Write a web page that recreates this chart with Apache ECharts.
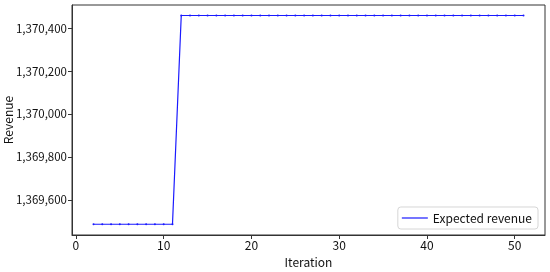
<!DOCTYPE html>
<html>
<head>
<meta charset="utf-8">
<script src="https://cdn.jsdelivr.net/npm/echarts@6/dist/echarts.min.js"></script>
<style>
  html, body { margin: 0; padding: 0; background: #fff; }
  #chart { width: 550px; height: 272px; }
</style>
</head>
<body>
<div id="chart"></div>
<script>
// iterations and expected revenue
var iterations = [2, 3, 4, 5, 6, 7, 8, 9, 10, 11, 12, 13, 14, 15, 16, 17, 18, 19, 20, 21,
	22, 23, 24, 25, 26, 27, 28, 29, 30, 31, 32, 33, 34, 35, 36, 37, 38, 39, 40, 41,
	42, 43, 44, 45, 46, 47, 48, 49, 50, 51];
var revenue = [1369487, 1369487, 1369487, 1369487, 1369487, 1369487, 1369487, 1369487, 1369487, 1369487,
	1370459, 1370459, 1370459, 1370459, 1370459, 1370459, 1370459, 1370459, 1370459, 1370459,
	1370459, 1370459, 1370459, 1370459, 1370459, 1370459, 1370459, 1370459, 1370459, 1370459,
	1370459, 1370459, 1370459, 1370459, 1370459, 1370459, 1370459, 1370459, 1370459, 1370459,
	1370459, 1370459, 1370459, 1370459, 1370459, 1370459, 1370459, 1370459, 1370459, 1370459];
var xTicks = [0, 10, 20, 30, 40, 50];
var yTicks = [1369600, 1369800, 1370000, 1370200, 1370400];

var FONT = '"Noto Sans CJK SC", sans-serif';

var seriesData = [];
for (var i = 0; i < iterations.length; i++) {
	seriesData.push([iterations[i], revenue[i]]);
}

var chart = echarts.init(document.getElementById('chart'));
var option = {
	animation : false,
	backgroundColor : '#fff',
	textStyle : { fontFamily : FONT },
	grid : {
		left : 72,
		right : 5,
		top : 5,
		bottom : 37,
		containLabel : false,
		outerBoundsMode : 'none',
		show : true,
		borderColor : '#333',
		borderWidth : 1
	},
	legend : {
		right : 12,
		bottom : 43,
		data : ['Expected revenue'],
		icon : 'rect',
		itemWidth : 26,
		itemHeight : 1.2,
		itemGap : 8,
		padding : [5, 6, 5, 4],
		borderColor : '#d6d6d6',
		borderWidth : 1,
		borderRadius : 3,
		backgroundColor : '#fff',
		textStyle : { fontFamily : FONT, fontSize : 12, color : '#111' }
	},
	xAxis : {
		type : 'value',
		min : -0.45,
		max : 53.45,
		name : 'Iteration',
		nameLocation : 'middle',
		nameGap : 21,
		nameMoveOverlap : false,
		nameTextStyle : { fontFamily : FONT, fontSize : 12, color : '#111' },
		splitLine : { show : false },
		axisLine : { onZero : false, lineStyle : { color : '#333' } },
		axisTick : { length : 4, lineStyle : { color : '#333' }, customValues : xTicks },
		axisLabel : { color : '#111', fontSize : 12, margin : 4, customValues : xTicks }
	},
	yAxis : {
		type : 'value',
		min : 1369437,
		max : 1370508,
		name : 'Revenue',
		nameLocation : 'middle',
		nameGap : 58,
		nameMoveOverlap : false,
		nameTextStyle : { fontFamily : FONT, fontSize : 12, color : '#111' },
		splitLine : { show : false },
		axisLine : { show : true, onZero : false, lineStyle : { color : '#333' } },
		axisTick : { show : true, length : 4, lineStyle : { color : '#333' }, customValues : yTicks },
		axisLabel : {
			color : '#111',
			fontSize : 11.5,
			margin : 5,
			customValues : yTicks,
			formatter : function(v) { return v.toLocaleString('en-US'); }
		}
	},
	series : [ {
		name : 'Expected revenue',
		type : 'line',
		data : seriesData,
		showSymbol : true,
		symbol : 'circle',
		symbolSize : 2,
		color : '#1a1aff',
		lineStyle : { width : 1.2, color : '#1a1aff' },
		itemStyle : { color : '#1a1aff' }
	} ]
};
chart.setOption(option);
</script>
</body>
</html>
